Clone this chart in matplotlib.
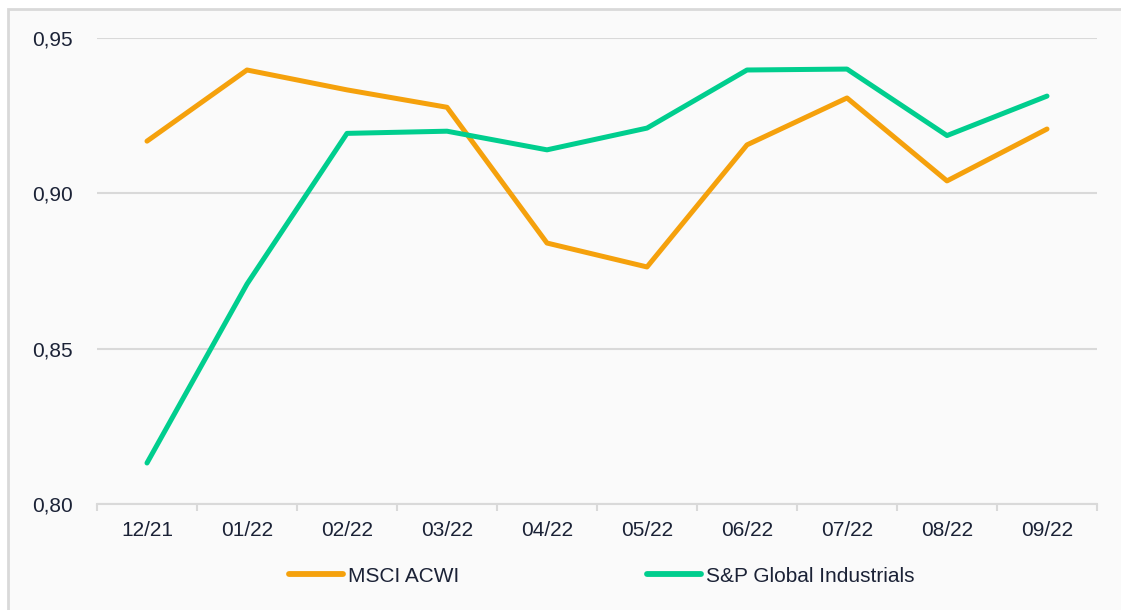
import matplotlib.pyplot as plt
from matplotlib.patches import Rectangle

months = ["12/21", "01/22", "02/22", "03/22", "04/22", "05/22", "06/22", "07/22", "08/22", "09/22"]
msci_acwi = [0.9168, 0.9397, 0.9333, 0.9277, 0.8840, 0.8763, 0.9156, 0.9307, 0.9040, 0.9207]
sp_global_ind = [0.8132, 0.8708, 0.9193, 0.9200, 0.9140, 0.9210, 0.9397, 0.9400, 0.9186, 0.9313]
y_ticks = [0.80, 0.85, 0.90, 0.95]

plt.rcParams['font.family'] = ['Liberation Sans', 'DejaVu Sans']
text_col = "#1B2236"
grid_col = "#D9D9D9"

W, H = 1121, 610
fig = plt.figure(figsize=(W / 100, H / 100), dpi=100)
fig.patch.set_facecolor("white")
fig.patches.append(Rectangle((8 / W, -0.01), 1.02, 1 - 9 / H + 0.01, transform=fig.transFigure,
                             facecolor="#FAFAFA", edgecolor=grid_col, linewidth=2, zorder=-10))

ax = fig.add_axes([97 / W, (H - 504) / H, 1000 / W, 466 / H])
ax.set_facecolor("none")

x = list(range(len(months)))
ax.plot(x, msci_acwi, color="#F5A10C", linewidth=3.6, solid_capstyle="round", label="MSCI ACWI", zorder=3)
ax.plot(x, sp_global_ind, color="#00CE8E", linewidth=3.6, solid_capstyle="round",
        label="S&P Global Industrials", zorder=3)

ax.set_xlim(-0.5, len(months) - 0.5)
ax.set_ylim(0.80, 0.95)
ax.set_yticks(y_ticks)
ax.set_yticklabels([f"{v:.2f}".replace(".", ",") for v in y_ticks])
ax.set_xticks(x)
ax.set_xticklabels(months)
ax.set_xticks([i - 0.5 for i in range(len(months) + 1)], minor=True)

ax.grid(axis="y", color=grid_col, linewidth=1.5)
ax.set_axisbelow(True)
for s in ["top", "right", "left"]:
    ax.spines[s].set_visible(False)
ax.spines["bottom"].set_color(grid_col)
ax.spines["bottom"].set_linewidth(1.5)

ax.tick_params(axis="y", length=0, pad=17.5, labelsize=15, labelcolor=text_col)
ax.tick_params(axis="x", which="major", length=0, pad=12, labelsize=15, labelcolor=text_col)
ax.tick_params(axis="x", which="minor", length=5, width=1.5, color=grid_col)

leg = fig.legend(loc="center", bbox_to_anchor=(0.537, 1 - 576 / H), ncol=2, frameon=False,
                 fontsize=15, handlelength=2.6, handletextpad=0.25, columnspacing=9.0,
                 labelcolor=text_col)
for line in leg.get_lines():
    line.set_linewidth(4.2)

fig.savefig("out.png", dpi=100)
